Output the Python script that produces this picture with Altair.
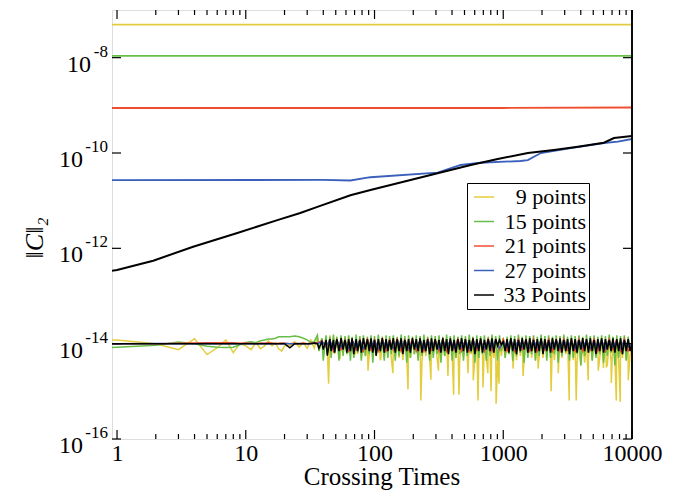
import altair as alt
import pandas as pd

# ---------------- data ----------------
names = ["9 points", "15 points", "21 points", "27 points", "33 Points"]
colors = ["#e3cd3c", "#68bf48", "#f04e30", "#3a60bc", "#000000"]

# upper (smooth) curves
yellow_top_x = [0.914, 10000]
yellow_top_y = [4.93e-8, 4.93e-8]
green_top_x = [0.914, 10000]
green_top_y = [1.09e-8, 1.09e-8]
red_top_x = [0.914, 1000, 10000]
red_top_y = [8.8e-10, 8.8e-10, 9.0e-10]
blue_top_x = [0.914, 40, 65, 88, 93, 309, 467, 668, 1360, 1552, 1958, 3350, 6050, 7780, 10000]
blue_top_y = [2.7e-11, 2.72e-11, 2.65e-11, 3.03e-11, 3.1e-11, 3.87e-11, 5.6e-11, 6.25e-11,
              6.8e-11, 7.1e-11, 1.0e-10, 1.27e-10, 1.62e-10, 1.73e-10, 1.97e-10]
black_top_x = [0.914, 1, 1.91, 3.9, 8.6, 17.6, 26.5, 36, 65, 93, 168, 344, 559, 906,
               1552, 2472, 3800, 6050, 7240, 10000]
black_top_y = [3.4e-13, 3.5e-13, 5.5e-13, 1.08e-12, 2.1e-12, 3.9e-12, 5.5e-12, 7.4e-12,
               1.3e-11, 1.68e-11, 2.5e-11, 4.06e-11, 5.6e-11, 7.5e-11, 1.0e-10, 1.16e-10,
               1.36e-10, 1.64e-10, 2.06e-10, 2.28e-10]

# noisy lower curves (values in units of 1e-15)
NOISE_UNIT = 1e-15
noise_x = [0.914, 1, 2, 3, 4, 5, 6, 7, 8, 9, 10, 11, 12, 13, 14, 15, 16, 17, 18, 19, 20,
           22, 24, 26, 28, 30, 32, 34, 36, 39, 42, 45, 48, 51, 55, 59, 63, 67, 72, 77, 82,
           88, 94, 100, 107, 115, 123, 131, 140, 150, 161, 172, 184, 197, 211, 226, 242,
           259, 277, 296, 317, 339, 363, 388, 415, 444, 475, 508, 544, 582, 623, 667, 714,
           764, 817, 874, 935, 1000, 1070, 1145, 1225, 1311, 1403, 1501, 1606, 1718, 1838,
           1967, 2105, 2252, 2410, 2579, 2760, 2953, 3160, 3381, 3618, 3871, 4142, 4432,
           4742, 5074, 5429, 5809, 6216, 6651, 7117, 7615, 8148, 8718, 9328, 10000]
# intermediate crossing times in the dense part
noise_mid_x = [37, 40, 43, 46, 49, 53, 57, 61, 65, 69, 74, 79, 85, 91, 97, 103, 111, 119, 127,
               135, 145, 155, 166, 178, 190, 204, 218, 234, 250, 268, 286, 306, 328, 351, 375,
               401, 429, 459, 491, 526, 563, 602, 645, 690, 739, 790, 845, 904, 967, 1035,
               1107, 1185, 1268, 1357, 1452, 1553, 1662, 1778, 1902, 2036, 2178, 2331, 2494,
               2669, 2856, 3056, 3270, 3499, 3744, 4006, 4287, 4587, 4908, 5251, 5619, 6012,
               6433, 6884, 7366, 7881, 8433, 9023, 9664]

yellow_noise = [12, 12, 10, 7.5, 12.7, 5.9, 8.2, 12, 6.5, 10, 9, 7.5, 10.5, 7.8, 9, 11.5, 9, 10.5, 7.8, 7, 9,
                9, 11, 8.5, 10.5, 8, 12, 8, 14,
                13, 12, 15, 14, 13, 14, 13, 14, 12, 13,
                12, 13, 12.5, 13, 12, 13, 12.5, 12, 13, 12,
                13, 12.5, 12, 13, 12, 12.5, 13, 12, 13, 12.5,
                12, 13, 12, 12.5, 13, 12, 13, 12.5, 12, 13,
                12, 12.5, 13, 12, 13, 12.5, 12, 13, 12, 12.5,
                13, 12, 13, 12.5, 12, 13, 12, 12.5, 13, 12,
                13, 12.5, 12, 13, 12, 12.5, 13, 12, 13, 12.5,
                12, 13, 12, 12.5, 13, 12, 13, 12.5, 12, 13,
                12, 12.5, 8]
yellow_mid = [7, 6, 7.5, 6.5, 6, 7, 6.5, 6, 7, 5.5,
              6, 5, 5.5, 6, 5, 5.5, 4.5, 5, 6, 5,
              5.5, 5, 4.5, 5.5, 5, 6, 5, 4.5, 5.5, 5,
              6, 5, 4.5, 5.5, 5, 6, 5, 4.5, 5.5, 5,
              6, 5, 4.5, 5.5, 5, 6, 5, 4.5, 5.5, 5,
              6, 5, 4.5, 5.5, 5, 6, 5, 4.5, 5.5, 5,
              6, 5, 4.5, 5.5, 5, 6, 5, 4.5, 4, 3.5,
              4, 5, 4.5, 5.5, 5, 4, 3.5, 4, 5, 4.5,
              5, 4.5, 6]
yellow_spike_x = [44, 54, 71, 89, 112, 139, 182, 229, 274, 314, 372, 412, 453, 532, 585, 637,
                  697, 759, 804, 880, 927, 1192, 1426, 1866, 2355, 2673, 3254, 3687, 4571,
                  5470, 6000, 6325, 6905, 7551, 8110, 9354]
yellow_spike_y = [1.45, 4.8, 6.2, 2.7, 4.8, 2.4, 1.1, 0.64, 1.75, 2.7, 2.1, 0.85, 0.85, 2.4,
                  1.7, 0.64, 1.2, 2.4, 1.0, 0.55, 1.45, 3.0, 2.1, 3.0, 1.0, 2.4, 0.64, 0.64,
                  1.7, 2.7, 3.1, 3.3, 1.5, 0.64, 0.6, 1.7]
green_noise = [8.3, 8.4, 9.3, 10.8, 10, 8.8, 8.4, 8.3, 8.4, 9.5, 10.6, 11, 10.5, 11.5, 12, 12.5, 12.5, 13, 14, 14, 14,
               14, 14.5, 14, 13, 12, 10.6, 11, 15,
               13, 15, 14, 15.5, 14, 15, 14.5, 15, 14, 15.5,
               14.5, 15, 14, 15, 14.5, 15.5, 14, 15, 14.5, 15,
               14, 15.5, 14.5, 15, 14, 15, 14.5, 15.5, 14, 15,
               14.5, 15, 14, 15.5, 14.5, 15, 14, 15, 14.5, 15.5,
               14, 15, 14.5, 15, 14, 15.5, 14.5, 15, 13, 14,
               15, 14.5, 15.5, 14, 15, 14.5, 15, 14, 15.5, 14.5,
               15, 14, 15, 14.5, 15.5, 14, 15, 14.5, 15, 14,
               15.5, 14.5, 15, 14, 15, 14.5, 15.5, 14, 15, 14.5,
               15, 14, 10]
green_mid = [7, 4.4, 6, 5, 6.5, 4.4, 5.5, 6, 4.4, 5,
             6.5, 4.4, 5.5, 6, 4, 5.5, 6.5, 4.4, 5, 6,
             4.4, 5.5, 6.5, 4, 5, 6, 4.4, 5.5, 6.5, 4.4,
             5, 6, 4, 5.5, 6.5, 4.4, 5, 6, 4.4, 5.5,
             6.5, 4, 5, 6, 4.4, 5.5, 6.5, 4.4, 7, 5,
             6, 4.4, 5.5, 6.5, 4, 5, 6, 4.4, 5.5, 6.5,
             4.4, 5, 6, 4, 5.5, 6.5, 4.4, 5, 6, 3.5,
             5.5, 6.5, 4.4, 5, 6, 4, 5.5, 6.5, 3.5, 5,
             6, 4.4, 8]
red_noise = [10, 10, 10, 10.2, 10.3, 10.5, 10.5, 10.5, 10.4, 10.2, 10.3, 10.2, 10, 10.3, 10.2, 10.4, 10.3, 10, 10.2, 10.3, 10.2,
             10, 10.2, 10, 10.3, 10, 10.2, 10.5, 10.3, 11.5, 8.5,
             12, 7, 12, 7.5, 12, 7, 12, 7.5, 12, 7,
             12.5, 7.5, 12, 7, 12.5, 7, 12, 7.5, 12.5, 7,
             12, 7.5, 12.5, 7, 12, 7, 12.5, 7.5, 12, 7,
             12.5, 7, 12, 7.5, 12.5, 7, 12, 7, 12.5, 7.5,
             12, 7, 12.5, 7, 12, 7.5, 12.5, 7, 12, 7,
             12.5, 7.5, 12, 7, 12.5, 7, 12, 7.5, 12.5, 7,
             12, 7, 12.5, 7.5, 12, 7, 12.5, 7, 12, 7.5,
             12.5, 7, 12, 7, 12.5, 7.5, 12, 7, 12.5, 7, 10]
blue_noise = [10, 10, 10.1, 10, 10, 10.1, 10, 10, 10.1, 10, 10, 10.1, 10, 10, 10.1, 10, 10, 10.1, 10, 10, 10.1,
              10, 10, 10.1, 10, 10, 10.1, 10.2, 10, 11, 9,
              11.5, 8, 11.5, 8.5, 11, 8, 11.5, 8.5, 11.5, 8,
              11, 8.5, 11.5, 8, 11.5, 8.5, 11, 8, 11.5, 8.5,
              11.5, 8, 11, 8.5, 11.5, 8, 11.5, 8.5, 11, 8,
              11.5, 8.5, 11.5, 8, 11, 8.5, 11.5, 8, 11.5, 8.5,
              11, 8, 11.5, 8.5, 11.5, 8, 11, 8.5, 11.5, 8,
              11.5, 8.5, 11, 8, 11.5, 8.5, 11.5, 8, 11, 8.5,
              11.5, 8, 11.5, 8.5, 11, 8, 11.5, 8.5, 11.5, 8,
              11, 8.5, 11.5, 8, 11.5, 8.5, 11, 8, 11.5, 8.5, 10]
black_noise = [10, 10, 10, 10, 10, 10, 10, 10, 10, 10, 10, 10, 10, 10, 10, 10, 10, 10, 10, 10, 10,
               8.2, 10, 10, 10, 10, 10, 10.3, 10,
               11, 12, 12.5, 12, 12.5, 13, 12, 12.5, 13, 12.5,
               12, 13, 12.5, 13, 12, 12.5, 13, 12.5, 12, 13,
               12.5, 13, 12, 12.5, 13, 12.5, 13, 12, 12.5, 13,
               12.5, 12, 13, 12.5, 13, 12, 12.5, 13, 12.5, 12,
               13, 12.5, 13, 12, 12.5, 13, 12.5, 12, 11, 12.5,
               13, 12.5, 12, 13, 12.5, 13, 12, 12.5, 13, 12.5,
               12, 13, 12.5, 13, 12, 12.5, 13, 12.5, 12, 13,
               12.5, 13, 12, 12.5, 13, 12.5, 12, 13, 12.5, 13,
               12, 12.5, 10]
black_mid = [8, 7.5, 5.6, 7, 6.5, 7, 7.5, 6.5, 7, 6,
             7, 6.5, 7.5, 7, 6.5, 5.6, 7, 6.5, 7, 7.5,
             6.5, 7, 6, 7, 6.5, 7.5, 7, 6.5, 7, 6,
             7, 7.5, 6.5, 7, 6, 7, 6.5, 7.5, 7, 6.5,
             7, 6, 7, 6.5, 7.5, 7, 6.5, 9, 9.5, 7,
             6.5, 7, 6, 7, 7.5, 6.5, 7, 6.5, 7, 6,
             7, 6.5, 7.5, 7, 6.5, 7, 6, 7, 6.5, 7.5,
             7, 6.5, 7, 6, 7, 6.5, 7.5, 7, 6.5, 7,
             6, 7, 7]

# axis ticks / labels
x_major = [1, 10, 100, 1000, 10000]
x_minor = [2, 3, 4, 5, 6, 7, 8, 9, 20, 30, 40, 50, 60, 70, 80, 90,
           200, 300, 400, 500, 600, 700, 800, 900, 2000, 3000, 4000, 5000, 6000, 7000, 8000, 9000]
y_major = [1e-16, 1e-14, 1e-12, 1e-10, 1e-8]
y_sup = ["-16", "-14", "-12", "-10", "-8"]

# ---------------- build tables ----------------
noises = [yellow_noise, green_noise, red_noise, blue_noise, black_noise]
mids = [yellow_mid, green_mid, None, None, black_mid]
tops = [(yellow_top_x, yellow_top_y), (green_top_x, green_top_y), (red_top_x, red_top_y),
        (blue_top_x, blue_top_y), (black_top_x, black_top_y)]
for n in noises:
    assert len(n) == len(noise_x), len(n)
for m in mids:
    if m is not None:
        assert len(m) == len(noise_mid_x), len(m)
assert len(yellow_spike_x) == len(yellow_spike_y)

W, H = 520, 429
FONT = "Liberation Serif"

xscale = alt.Scale(type="log", domain=[0.914, 10000], nice=False, zero=False)
yscale = alt.Scale(type="log", domain=[1e-16, 1e-7], nice=False, zero=False)
xaxis = alt.Axis(values=x_major, format="d", ticks=False, domain=False, grid=False, title=None,
                 labelFont=FONT, labelFontSize=24, labelColor="black", labelBaseline="alphabetic",
                 labelPadding=21, labelFlush=False, labelOverlap=False)
cscale = alt.Scale(domain=names, range=colors)
legend = alt.Legend(orient="none", legendX=355, legendY=173, title=None,
                    strokeColor="black", fillColor="white", padding=3, symbolOffset=3,
                    labelFont=FONT, labelFontSize=22, labelColor="black",
                    labelAlign="right", labelOffset=91, labelLimit=0,
                    symbolType="stroke", symbolSize=400, symbolStrokeWidth=1.5, rowPadding=2.5)


def X(field):
    return alt.X(field, type="quantitative", scale=xscale, axis=xaxis)


def Y(field):
    return alt.Y(field, type="quantitative", scale=yscale, axis=None)


layers = []
# noisy curves first (black on top)
for i, name in enumerate(names):
    xs = list(noise_x)
    ys = [v * NOISE_UNIT for v in noises[i]]
    if mids[i] is not None:
        xs += noise_mid_x
        ys += [v * NOISE_UNIT for v in mids[i]]
    if i == 0:
        xs += yellow_spike_x
        ys += [v * NOISE_UNIT for v in yellow_spike_y]
    df = pd.DataFrame({"x": xs, "y": ys, "series": name}).sort_values("x")
    layers.append(alt.Chart(df).mark_line(clip=True, strokeWidth=1.5).encode(
        x=X("x"), y=Y("y"),
        color=alt.Color("series:N", scale=cscale, legend=legend)))
# smooth upper curves
for i, name in enumerate(names):
    tx, ty = tops[i]
    df = pd.DataFrame({"x": tx, "y": ty, "series": name})
    layers.append(alt.Chart(df).mark_line(clip=True, strokeWidth=1.8 if i < 4 else 2.0).encode(
        x=X("x"), y=Y("y"),
        color=alt.Color("series:N", scale=cscale, legend=legend)))

# inward ticks
xmaj = pd.DataFrame({"v": x_major})
xmin = pd.DataFrame({"v": x_minor})
ymaj = pd.DataFrame({"v": y_major, "sup": y_sup})
tick_style = dict(color="black", strokeWidth=1.2)
layers += [
    alt.Chart(xmaj).mark_rule(**tick_style).encode(x=X("v"), y=alt.value(H), y2=alt.value(H - 9)),
    alt.Chart(xmaj).mark_rule(**tick_style).encode(x=X("v"), y=alt.value(0), y2=alt.value(9)),
    alt.Chart(xmin).mark_rule(**tick_style).encode(x=X("v"), y=alt.value(H), y2=alt.value(H - 5)),
    alt.Chart(xmin).mark_rule(**tick_style).encode(x=X("v"), y=alt.value(0), y2=alt.value(5)),
    alt.Chart(ymaj).mark_rule(**tick_style).encode(y=Y("v"), x=alt.value(0), x2=alt.value(9)),
    alt.Chart(ymaj).mark_rule(**tick_style).encode(y=Y("v"), x=alt.value(W - 9), x2=alt.value(W)),
]
# slightly heavier right spine
layers.append(alt.Chart(pd.DataFrame({"v": [0]})).mark_rule(color="black", strokeWidth=1.9).encode(
    x=alt.value(W), y=alt.value(0), y2=alt.value(H)))

# y tick labels: "10" with a superscript exponent
ymaj2 = ymaj[ymaj["sup"].str.len() == 2]
ymaj3 = ymaj[ymaj["sup"].str.len() == 3]
layers += [
    alt.Chart(ymaj).mark_text(align="right", baseline="alphabetic", dy=-1, font=FONT,
                              fontSize=17, color="black").encode(
        y=Y("v"), x=alt.value(-4), text="sup:N"),
    alt.Chart(ymaj2).mark_text(align="right", baseline="alphabetic", dy=14, font=FONT,
                               fontSize=24, color="black").encode(
        y=Y("v"), x=alt.value(-21), text=alt.value("10")),
    alt.Chart(ymaj3).mark_text(align="right", baseline="alphabetic", dy=14, font=FONT,
                               fontSize=24, color="black").encode(
        y=Y("v"), x=alt.value(-29), text=alt.value("10")),
]

# axis titles
layers += [
    alt.Chart(pd.DataFrame({"t": ["Crossing Times"]})).mark_text(
        align="center", baseline="alphabetic", font=FONT, fontSize=25, color="black").encode(
        x=alt.value(270), y=alt.value(475), text="t:N"),
    alt.Chart(pd.DataFrame({"t": ["\u2016C\u2016\u2082"]})).mark_text(
        align="center", baseline="middle", angle=270, font=FONT, fontSize=26,
        fontStyle="italic", color="black").encode(
        x=alt.value(-77), y=alt.value(228), text="t:N"),
]

chart = alt.layer(*layers).properties(
    width=W, height=H,
    autosize=alt.AutoSizeParams(type="none"),
    padding={"left": 112, "top": 10, "right": 56, "bottom": 58},
    background="white",
).configure_view(stroke="black", strokeWidth=1.5).configure(font=FONT)

chart.save("out.html", embed_options={"renderer": "svg", "actions": False})
